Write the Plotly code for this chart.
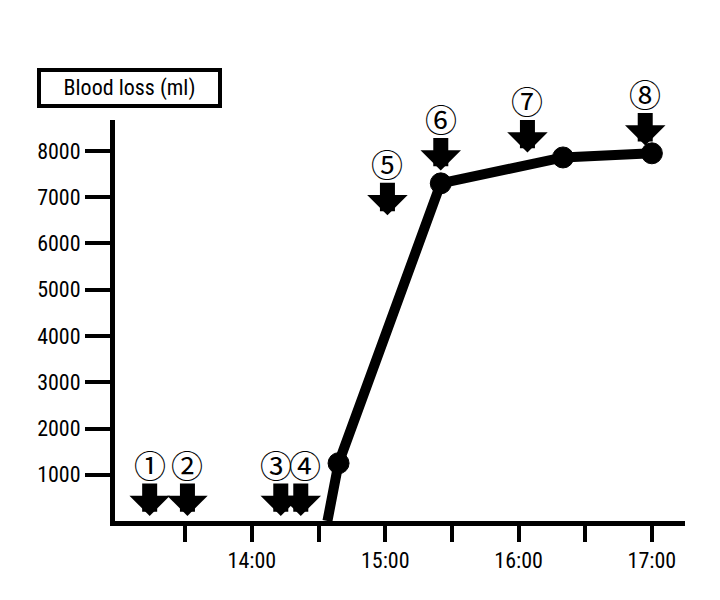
import plotly.graph_objects as go

# blood loss curve
times = ["2020-01-01 14:34", "2020-01-01 14:39", "2020-01-01 15:25",
         "2020-01-01 16:20", "2020-01-01 17:00"]
blood_loss = [0, 1250, 7300, 7860, 7950]
marker_sizes = [0, 21, 21, 21, 21]

# numbered events (arrows)
event_times = ["2020-01-01 13:14", "2020-01-01 13:31", "2020-01-01 14:13",
               "2020-01-01 14:22", "2020-01-01 15:01", "2020-01-01 15:25",
               "2020-01-01 16:04", "2020-01-01 16:57"]
event_levels = [110, 110, 110, 110, 6610, 7580, 7970, 8120]
event_labels = ["①", "②", "③", "④", "⑤", "⑥", "⑦", "⑧"]

# axis ticks
x_tickvals = ["2020-01-01 13:30", "2020-01-01 14:00", "2020-01-01 14:30",
              "2020-01-01 15:00", "2020-01-01 15:30", "2020-01-01 16:00",
              "2020-01-01 16:30", "2020-01-01 17:00"]
x_ticktext = ["", "14:00", "", "15:00", "", "16:00", "", "17:00"]
y_tickvals = [1000, 2000, 3000, 4000, 5000, 6000, 7000, 8000]

FONT = "Roboto Condensed, DejaVu Sans Condensed, sans-serif"

fig = go.Figure(go.Scatter(
    x=times, y=blood_loss,
    mode="lines+markers",
    line=dict(color="black", width=10),
    marker=dict(color="black", size=marker_sizes, opacity=1,
                line=dict(color="black", width=1)),
    hoverinfo="x+y",
    cliponaxis=False,
))

# labels 3 and 4 sit a little apart from their arrows
label_nudge = {"③": -5, "④": 4}

annotations = []
for t, lvl, lab in zip(event_times, event_levels, event_labels):
    annotations.append(dict(
        x=t, y=lvl, text="", showarrow=True,
        ax=0, ay=-34, arrowhead=1, arrowsize=0.45, arrowwidth=15,
        arrowcolor="black", standoff=0,
    ))
    annotations.append(dict(
        x=t, y=lvl, text=lab, showarrow=False, yshift=52,
        xshift=label_nudge.get(lab, 0),
        font=dict(family="Noto Sans CJK JP", size=32, color="black"),
    ))

annotations.append(dict(
    xref="paper", yref="paper", x=-0.137, y=1.13,
    xanchor="left", yanchor="top",
    text="Blood loss (ml)", showarrow=False,
    width=175, height=30, borderpad=1,
    bordercolor="black", borderwidth=4,
    font=dict(family=FONT, size=22, color="black"),
))

fig.update_layout(
    width=712, height=592,
    margin=dict(l=107, r=35, t=112, b=79),
    plot_bgcolor="white", paper_bgcolor="white",
    showlegend=False,
    font=dict(family=FONT, size=22, color="black"),
    annotations=annotations,
    xaxis=dict(
        range=["2020-01-01 12:58:24", "2020-01-01 17:14:54"],
        tickvals=x_tickvals, ticktext=x_ticktext,
        showgrid=False, zeroline=False,
        showline=True, linecolor="black", linewidth=5,
        ticks="outside", ticklen=16, tickwidth=4, tickcolor="black",
    ),
    yaxis=dict(
        range=[0, 8670],
        tickvals=y_tickvals,
        showgrid=False, zeroline=False,
        showline=True, linecolor="black", linewidth=5,
        ticks="outside", ticklen=25, tickwidth=4, tickcolor="black",
    ),
)

fig.write_html("out.html")
